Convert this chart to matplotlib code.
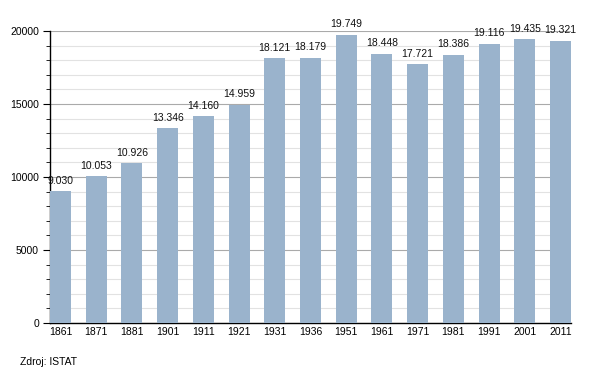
import matplotlib
matplotlib.use("Agg")
import matplotlib.pyplot as plt
from matplotlib.ticker import MultipleLocator

years = ["1861", "1871", "1881", "1901", "1911", "1921", "1931", "1936", "1951",
         "1961", "1971", "1981", "1991", "2001", "2011"]
population = [9030, 10053, 10926, 13346, 14160, 14959, 18121, 18179, 19749,
              18448, 17721, 18386, 19116, 19435, 19321]
labels = ["9.030", "10.053", "10.926", "13.346", "14.160", "14.959", "18.121", "18.179",
          "19.749", "18.448", "17.721", "18.386", "19.116", "19.435", "19.321"]

plt.rcParams['font.family'] = ['Liberation Sans', 'DejaVu Sans']

fig = plt.figure(figsize=(6, 3.73), dpi=100)
ax = fig.add_axes([50/600, 50/373, 521/600, 292/373])

w = 0.59
x = list(range(len(years)))
ax.bar(x, population, width=w, color="#9ab3cc", zorder=3)
for xi, v, lab in zip(x, population, labels):
    ax.text(xi, v + 380, lab, ha="center", va="bottom", fontsize=7.5, color="#111111", zorder=4)

ax.set_xlim(-w/2, len(years) - 1 + w/2)
ax.set_ylim(0, 20000)
ax.yaxis.set_major_locator(MultipleLocator(5000))
ax.yaxis.set_minor_locator(MultipleLocator(1000))
ax.grid(axis="y", which="minor", color="#e2e2e2", linewidth=0.8, zorder=0)
ax.grid(axis="y", which="major", color="#aaaaaa", linewidth=0.8, zorder=1)
ax.set_xticks(x)
ax.set_xticklabels(years)
ax.tick_params(axis="x", length=0, labelsize=7.5, pad=3)
ax.tick_params(axis="y", which="major", length=5, labelsize=7.5, pad=3)
ax.tick_params(axis="y", which="minor", length=3)
for s in ["top", "right"]:
    ax.spines[s].set_visible(False)
ax.spines["left"].set_linewidth(1.0)
ax.spines["bottom"].set_linewidth(1.0)

fig.text(20/600, 1 - 362/373, "Zdroj: ISTAT", fontsize=7.5, ha="left", va="center")

fig.savefig("out.png", dpi=100)
